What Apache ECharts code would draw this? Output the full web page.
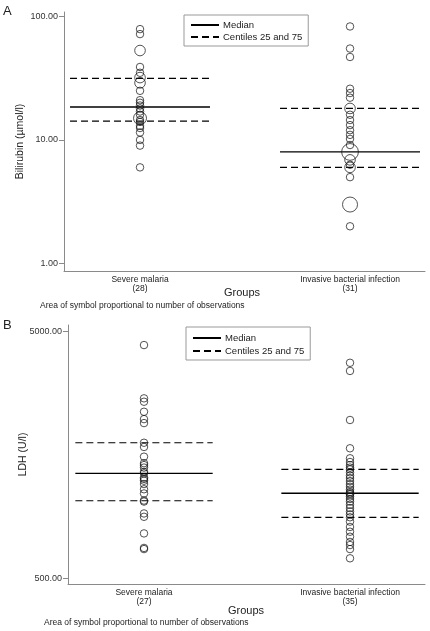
<!DOCTYPE html>
<html><head><meta charset="utf-8">
<script src="https://cdn.jsdelivr.net/npm/echarts@6/dist/echarts.min.js"></script>
<style>html,body{margin:0;padding:0;background:#fff}#c{width:430px;height:631px}</style>
</head><body><div id="c"></div>
<script>
// ---- data ----
const categories = ['Severe malaria', 'Invasive bacterial infection'];
const bilirubinN = [28, 31];
const ldhN = [27, 35];
const bilirubinSevereMalaria = [6, 9, 10, 11.5, 12.5, 13, 14, 14.5, 15, 15, 15, 16, 17, 18, 19, 20, 21, 25, 29, 29, 32, 32, 35, 39, 53, 53, 72, 79];
const bilirubinInvasive = [2, 3, 3, 3, 3, 5, 6, 6, 6.3, 6.9, 6.9, 8, 8, 8, 8, 8, 9.1, 10.2, 11, 12, 13.2, 14.5, 16, 18, 18, 22, 24, 26, 47, 55, 83];
const ldhSevereMalaria = [655, 662, 758, 885, 913, 1020, 1030, 1100, 1144, 1201, 1239, 1260, 1275, 1327, 1345, 1400, 1433, 1459, 1550, 1697, 1765, 2120, 2200, 2356, 2587, 2670, 4388];
const ldhInvasive = [601, 655, 680, 700, 735, 770, 805, 846, 881, 905, 930, 960, 990, 1020, 1045, 1070, 1090, 1102, 1115, 1140, 1170, 1200, 1235, 1270, 1300, 1340, 1377, 1400, 1433, 1475, 1527, 1676, 2182, 3447, 3720];
const bilirubinMedian = [18.5, 8];
const bilirubinP25 = [14.2, 6];
const bilirubinP75 = [31.5, 18];
const ldhMedian = [1327, 1102];
const ldhP25 = [1028, 881];
const ldhP75 = [1765, 1377];
const bilirubinTicks = [1, 10, 100];
const ldhTicks = [500, 5000];

// ---- build ----
const FONT = 'Liberation Sans, Arial, sans-serif';
const HALF = 1 / 3;
function aggregate(values, pos) {
  const m = new Map();
  values.forEach(v => m.set(v, (m.get(v) || 0) + 1));
  return Array.from(m.entries()).map(([v, c]) => [pos, v, c]);
}
function statLines(stat, name, grid, dashed) {
  return stat.map((v, i) => ({
    type: 'line', name: name, xAxisIndex: grid, yAxisIndex: grid,
    data: [[i + 1 - HALF, v], [i + 1 + HALF, v]],
    symbol: 'none', silent: true, animation: false,
    itemStyle: { color: 'rgba(0,0,0,0)' },
    lineStyle: { color: '#000', width: dashed ? 1.2 : 1.3, type: dashed ? [7, 4] : 'solid' },
    z: 1
  }));
}
function scatter(values, pos, grid) {
  return {
    type: 'scatter', xAxisIndex: grid, yAxisIndex: grid,
    data: aggregate(values, pos),
    symbol: 'circle',
    symbolSize: d => 7.5 * Math.sqrt(d[2]),
    itemStyle: { color: 'rgba(0,0,0,0)', borderColor: '#111', borderWidth: 0.9 },
    animation: false, z: 3
  };
}
function xAxis(grid, min, max, counts) {
  return {
    type: 'value', gridIndex: grid, min: min, max: max,
    splitLine: { show: false },
    axisLine: { show: true, lineStyle: { color: '#8a8a8a', width: 1 } },
    axisTick: { show: false },
    axisLabel: {
      customValues: [1, 2],
      formatter: v => categories[Math.round(v) - 1] + '\n(' + counts[Math.round(v) - 1] + ')',
      fontFamily: FONT, fontSize: 8.5, color: '#222', lineHeight: 9, margin: 4
    }
  };
}
function yAxis(grid, min, max, ticks, name, gap) {
  return {
    type: 'log', logBase: 10, gridIndex: grid, min: min, max: max,
    name: name, nameLocation: 'middle', nameGap: gap, nameMoveOverlap: false,
    nameTextStyle: { fontFamily: FONT, fontSize: 10.5, color: '#222' },
    splitLine: { show: false }, minorTick: { show: false },
    axisLine: { show: true, lineStyle: { color: '#8a8a8a', width: 1 } },
    axisTick: { show: true, length: 5, customValues: ticks, lineStyle: { color: '#8a8a8a' } },
    axisLabel: { customValues: ticks, formatter: v => Number(v).toFixed(2), fontFamily: FONT, fontSize: 9, color: '#333', margin: 6 }
  };
}
function legend(left, top, gap, pad) {
  return {
    left: left, top: top, orient: 'vertical',
    data: ['Median', 'Centiles 25 and 75'],
    itemWidth: 28, itemHeight: 10, itemGap: gap,
    padding: pad, borderColor: '#999', borderWidth: 1,
    itemStyle: { opacity: 0 },
    textStyle: { fontFamily: FONT, fontSize: 9.5, color: '#222', padding: [0, 0, 0, -1] },
    selectedMode: false
  };
}
function txt(x, y, t, size, align) {
  return { type: 'text', x: x, y: y, style: { text: t, font: size + 'px ' + FONT, fill: '#222', align: align || 'left', verticalAlign: 'middle' } };
}

const option = {
  backgroundColor: '#fff',
  animation: false,
  grid: [
    { left: 64, top: 12, width: 361, height: 259 },
    { left: 68, top: 325, width: 357, height: 259 }
  ],
  xAxis: [xAxis(0, 0.638, 2.357, bilirubinN), xAxis(1, 0.631, 2.364, ldhN)],
  yAxis: [
    yAxis(0, 0.869, 108.7, bilirubinTicks, 'Bilirubin (µmol/l)', 38),
    yAxis(1, 473, 5290, ldhTicks, 'LDH (U/l)', 39)
  ],
  legend: [legend(184, 15, 2, [5, 6, 4, 6]), legend(186, 327, 3, [6, 6, 4, 6])],
  graphic: [
    txt(3, 11, 'A', 13), txt(3, 325, 'B', 13),
    txt(242, 293, 'Groups', 11, 'center'),
    txt(40, 306, 'Area of symbol proportional to number of observations', 8.5),
    txt(246, 611, 'Groups', 11, 'center'),
    txt(44, 623, 'Area of symbol proportional to number of observations', 8.5)
  ],
  series: [
    ...statLines(bilirubinMedian, 'Median', 0, false),
    ...statLines(bilirubinP25, 'Centiles 25 and 75', 0, true),
    ...statLines(bilirubinP75, 'Centiles 25 and 75', 0, true),
    scatter(bilirubinSevereMalaria, 1, 0),
    scatter(bilirubinInvasive, 2, 0),
    ...statLines(ldhMedian, 'Median', 1, false),
    ...statLines(ldhP25, 'Centiles 25 and 75', 1, true),
    ...statLines(ldhP75, 'Centiles 25 and 75', 1, true),
    scatter(ldhSevereMalaria, 1, 1),
    scatter(ldhInvasive, 2, 1)
  ]
};
echarts.init(document.getElementById('c'), null, { renderer: 'canvas' }).setOption(option);
</script></body></html>
